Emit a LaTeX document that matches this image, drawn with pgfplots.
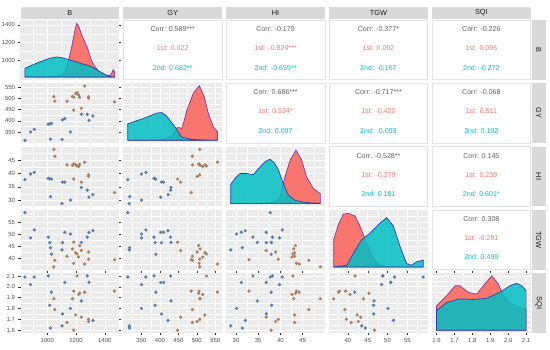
\documentclass[border=0pt]{standalone}
\usepackage{fontspec}
\setmainfont{Liberation Sans}
\usepackage{pgfplots}
\usepackage{pgfplotstable}
\pgfplotsset{compat=1.18}

\definecolor{panelbg}{HTML}{EBEBEB}
\definecolor{stripbg}{HTML}{D9D9D9}
\definecolor{striptext}{HTML}{1A1A1A}
\definecolor{labcol}{HTML}{4D4D4D}
\definecolor{tickcol}{HTML}{333333}
\definecolor{bordercol}{HTML}{E3E3E3}
\definecolor{corrgray}{HTML}{606060}
\definecolor{fred}{HTML}{F8766D}
\definecolor{fcyan}{HTML}{00BFC4}
\definecolor{lred}{RGB}{120,60,170}
\definecolor{lcyan}{RGB}{50,60,170}
\definecolor{ptred}{RGB}{175,128,95}
\definecolor{ptcyan}{RGB}{88,126,180}

% group "1st"
\pgfplotstableread{
B GY HI TGW SQI
1046 508 49.0 36.4 1.89
1053 488 46.4 39.2 1.79
1138 488 43.2 40.8 1.67
1175 509 43.0 43.9 1.89
1184 506 43.6 37.9 1.96
1198 522 43.2 42.3 1.74
1207 526 42.8 41.8 2.10
1218 516 42.6 40.5 1.93
1225 505 43.4 45.3 1.94
1260 556 44.2 37.6 1.95
1184 448 37.9 46.7 1.60
1237 456 36.8 43.2 1.72
1287 508 39.5 39.6 1.70
1287 501 38.9 42.6 1.68
1467 485 32.9 39.4 1.96
}\first
% group "2nd"
\pgfplotstableread{
B GY HI TGW SQI
846 313 37.7 59.0 2.09
885 350 39.8 48.5 2.02
910 362 40.4 51.8 2.09
1007 384 38.2 48.8 2.10
1018 387 38.0 46.5 1.83
1030 389 37.9 41.7 1.95
1106 404 36.8 46.5 1.75
1122 410 36.8 50.8 2.04
1237 430 34.8 46.6 1.87
1278 429 33.8 48.8 2.10
1317 422 32.1 51.5 1.69
1290 402 31.2 50.8 2.04
1161 350 30.1 50.1 1.80
1023 318 31.4 44.4 1.62
1103 317 28.8 43.5 1.64
}\second

\pgfplotsset{
 base/.style={scale only axis, width=98.5bp, height=59.7bp, anchor=north west,
   axis background/.style={fill=panelbg}, axis line style={draw=none},
   grid=both, major grid style={draw=white,line width=0.55bp},
   minor grid style={draw=white,line width=0.28bp},
   tick align=outside, major tick length=2bp, minor tick length=0pt,
   xtick style={draw=none}, ytick style={draw=none},
   xticklabels={}, yticklabels={},
   tick label style={font=\fontsize{6}{7}\selectfont, text=labcol},
 },
 pr/.style={only marks, mark=*, mark size=1.45bp, color=ptred, mark options={fill=ptred, draw=none}},
 pc/.style={only marks, mark=*, mark size=1.45bp, color=ptcyan, mark options={fill=ptcyan, draw=none}},
 dr/.style={fill=fred, draw=lred, line width=0.7bp},
 dc/.style={fill=fcyan, fill opacity=0.85, draw=lcyan, draw opacity=1, line width=0.7bp},
 xB/.style={xmin=815,xmax=1498,xtick={1000,1200,1400},minor xtick={900,1100,1300}},
 xGY/.style={xmin=301,xmax=568,xtick={350,400,450,500,550},minor xtick={325,375,425,475,525}},
 xHI/.style={xmin=27.8,xmax=50,xtick={30,35,40,45},minor xtick={32.5,37.5,42.5,47.5}},
 xTGW/.style={xmin=35.27,xmax=60.13,xtick={40,45,50,55},minor xtick={37.5,42.5,47.5,52.5,57.5}},
 xSQI/.style={xmin=1.575,xmax=2.125,xtick={1.6,1.7,1.8,1.9,2.0,2.1},minor xtick={1.65,1.75,1.85,1.95,2.05}},
 yBd/.style={ymin=777,ymax=1456,ytick={1000,1200,1400},minor ytick={900,1100,1300}},
 yGY/.style={ymin=301,ymax=568,ytick={350,400,450,500,550},minor ytick={325,375,425,475,525}},
 yHI/.style={ymin=27.8,ymax=50,ytick={30,35,40,45},minor ytick={32.5,37.5,42.5,47.5}},
 yTGW/.style={ymin=35.27,ymax=60.13,ytick={40,45,50,55},minor ytick={37.5,42.5,47.5,52.5,57.5}},
 ySQI/.style={ymin=1.575,ymax=2.125,ytick={1.6,1.7,1.8,1.9,2.0,2.1},minor ytick={1.65,1.75,1.85,1.95,2.05}},
 lx/.style={xtick style={draw=tickcol,line width=0.45bp}, xticklabels={#1}},
 ly/.style={ytick style={draw=tickcol,line width=0.45bp}, yticklabels={#1}},
}

\newcommand\corr[5]{%
 \begin{scope}[shift={(#1bp,-#2bp)}]
  \draw[bordercol, line width=0.5bp, fill=white] (0,0) rectangle (98.5bp,-59.7bp);
  \node[font=\fontsize{7.1}{8}\selectfont, text=corrgray] at (49.25bp,-9.25bp) {#3};
  \node[font=\fontsize{7.1}{8}\selectfont, text=fred] at (49.25bp,-28.2bp) {#4};
  \node[font=\fontsize{7.1}{8}\selectfont, text=fcyan] at (49.25bp,-47.5bp) {#5};
 \end{scope}}
\newcommand\topstrip[2]{%
  \fill[stripbg] (#1bp,-6.5bp) rectangle ++(98.5bp,-12bp);
  \node[font=\fontsize{7.4}{8}\selectfont, text=striptext] at (#1bp+49.25bp,-12.5bp) {#2};}
\newcommand\sidestrip[2]{%
  \fill[stripbg] (532bp,-#1bp) rectangle (545.5bp,-#1bp-59.7bp);
  \node[font=\fontsize{7.4}{8}\selectfont, text=striptext, rotate=-90] at (538.75bp,-#1bp-29.85bp) {#2};}

\begin{document}
\begin{tikzpicture}
\path[use as bounding box] (0,0) rectangle (550bp,-350bp);

% strips
\topstrip{20.5}{B}\topstrip{123.4}{GY}\topstrip{226.3}{HI}\topstrip{329.2}{TGW}\topstrip{432.1}{SQI}
\sidestrip{20}{B}\sidestrip{83.3}{GY}\sidestrip{146.6}{HI}\sidestrip{209.9}{TGW}\sidestrip{273.2}{SQI}

% upper panels
\corr{123.4}{20}{Corr: 0.589***}{1st: 0.022}{2nd: 0.682**}
\corr{226.3}{20}{Corr: -0.179}{1st: -0.824***}{2nd: -0.659**}
\corr{329.2}{20}{Corr: -0.377*}{1st: 0.092}{2nd: -0.167}
\corr{432.1}{20}{Corr: -0.226}{1st: 0.095}{2nd: -0.272}
\corr{226.3}{83.3}{Corr: 0.686***}{1st: 0.534*}{2nd: 0.097}
\corr{329.2}{83.3}{Corr: -0.717***}{1st: -0.420}{2nd: -0.093}
\corr{432.1}{83.3}{Corr: -0.068}{1st: 0.511}{2nd: 0.192}
\corr{329.2}{146.6}{Corr: -0.528**}{1st: -0.379}{2nd: 0.181}
\corr{432.1}{146.6}{Corr: 0.145}{1st: 0.239}{2nd: 0.601*}
\corr{432.1}{209.9}{Corr: 0.308}{1st: -0.291}{2nd: 0.499}

% ---- row 1: B density
\begin{axis}[base, at={(20.5bp,-20bp)}, xB, yBd, ly={1000,1200,1400}]
\addplot[dr] table[x=x, y expr=\thisrow{f}*679+777] {
x f
846 0.045
1000 0.047
1080 0.06
1120 0.12
1146 0.30
1170 0.55
1190 0.80
1204 0.945
1218 0.90
1238 0.76
1258 0.65
1278 0.54
1295 0.42
1308 0.32
1330 0.22
1366 0.12
1400 0.08
1435 0.07
1450 0.12
1458 0.17
1469 0.12
1469 0.045
} -- cycle;
\addplot[dc] table[x=x, y expr=\thisrow{f}*679+777] {
x f
846 0.045
846 0.19
900 0.25
950 0.30
1000 0.345
1040 0.37
1066 0.38
1100 0.37
1158 0.33
1200 0.30
1250 0.26
1297 0.23
1340 0.17
1389 0.105
1435 0.05
1469 0.045
} -- cycle;
\end{axis}

% ---- row 2
\begin{axis}[base, at={(20.5bp,-83.3bp)}, xB, yGY, ly={350,400,450,500,550}]
\addplot[pr] table[x=B,y=GY] {\first};
\addplot[pc] table[x=B,y=GY] {\second};
\end{axis}
\begin{axis}[base, at={(123.4bp,-83.3bp)}, xGY, yGY]
\addplot[dr] table[x=x, y expr=\thisrow{f}*267+301] {
x f
313 0.045
400 0.05
425 0.09
436 0.15
445 0.25
452 0.26
459 0.24
466 0.38
473 0.55
491 0.84
507 0.96
520 0.78
531 0.50
545 0.27
556 0.19
556 0.045
} -- cycle;
\addplot[dc] table[x=x, y expr=\thisrow{f}*267+301] {
x f
313 0.045
313 0.32
335 0.37
355 0.41
375 0.46
391 0.50
405 0.51
417 0.46
427 0.38
441 0.27
459 0.10
486 0.06
520 0.05
556 0.045
} -- cycle;
\end{axis}

% ---- row 3
\begin{axis}[base, at={(20.5bp,-146.6bp)}, xB, yHI, ly={30,35,40,45}]
\addplot[pr] table[x=B,y=HI] {\first};
\addplot[pc] table[x=B,y=HI] {\second};
\end{axis}
\begin{axis}[base, at={(123.4bp,-146.6bp)}, xGY, yHI]
\addplot[pr] table[x=GY,y=HI] {\first};
\addplot[pc] table[x=GY,y=HI] {\second};
\end{axis}
\begin{axis}[base, at={(226.3bp,-146.6bp)}, xHI, yHI]
\addplot[dr] table[x=x, y expr=\thisrow{f}*22.2+27.8] {
x f
28.8 0.045
37.6 0.05
39.2 0.10
39.9 0.16
41.0 0.49
42.2 0.775
43.5 0.94
44.8 0.775
45.9 0.49
47.4 0.30
49.0 0.21
49.0 0.045
} -- cycle;
\addplot[dc] table[x=x, y expr=\thisrow{f}*22.2+27.8] {
x f
28.8 0.045
28.8 0.365
29.8 0.47
30.9 0.55
32.4 0.55
33.9 0.53
35.4 0.66
36.6 0.75
37.65 0.79
38.6 0.73
39.5 0.62
40.65 0.38
41.8 0.185
43.3 0.10
45.9 0.06
49.0 0.05
49.0 0.045
} -- cycle;
\end{axis}

% ---- row 4
\begin{axis}[base, at={(20.5bp,-209.9bp)}, xB, yTGW, ly={40,45,50,55}]
\addplot[pr] table[x=B,y=TGW] {\first};
\addplot[pc] table[x=B,y=TGW] {\second};
\end{axis}
\begin{axis}[base, at={(123.4bp,-209.9bp)}, xGY, yTGW]
\addplot[pr] table[x=GY,y=TGW] {\first};
\addplot[pc] table[x=GY,y=TGW] {\second};
\end{axis}
\begin{axis}[base, at={(226.3bp,-209.9bp)}, xHI, yTGW]
\addplot[pr] table[x=HI,y=TGW] {\first};
\addplot[pc] table[x=HI,y=TGW] {\second};
\end{axis}
\begin{axis}[base, at={(329.2bp,-209.9bp)}, xTGW, yTGW]
\addplot[dr] table[x=x, y expr=\thisrow{f}*24.86+35.27] {
x f
36.4 0.045
36.4 0.50
37.57 0.755
38.83 0.93
40.09 0.94
41.78 0.90
43.04 0.73
44.73 0.44
46.4 0.19
48.09 0.07
51.4 0.045
59.0 0.045
} -- cycle;
\addplot[dc] table[x=x, y expr=\thisrow{f}*24.86+35.27] {
x f
36.4 0.045
39.7 0.07
41.35 0.27
43.47 0.50
45.57 0.61
48.09 0.78
49.78 0.87
51.45 0.73
53.14 0.39
54.83 0.10
56.09 0.074
57.35 0.13
59.0 0.16
59.0 0.045
} -- cycle;
\end{axis}

% ---- row 5
\begin{axis}[base, at={(20.5bp,-273.2bp)}, xB, ySQI, ly={1.6,1.7,1.8,1.9,2.0,2.1}, lx={1000,1200,1400}]
\addplot[pr] table[x=B,y=SQI] {\first};
\addplot[pc] table[x=B,y=SQI] {\second};
\end{axis}
\begin{axis}[base, at={(123.4bp,-273.2bp)}, xGY, ySQI, lx={350,400,450,500,550}]
\addplot[pr] table[x=GY,y=SQI] {\first};
\addplot[pc] table[x=GY,y=SQI] {\second};
\end{axis}
\begin{axis}[base, at={(226.3bp,-273.2bp)}, xHI, ySQI, lx={30,35,40,45}]
\addplot[pr] table[x=HI,y=SQI] {\first};
\addplot[pc] table[x=HI,y=SQI] {\second};
\end{axis}
\begin{axis}[base, at={(329.2bp,-273.2bp)}, xTGW, ySQI, lx={40,45,50,55}]
\addplot[pr] table[x=TGW,y=SQI] {\first};
\addplot[pc] table[x=TGW,y=SQI] {\second};
\end{axis}
\begin{axis}[base, at={(432.1bp,-273.2bp)}, xSQI, ySQI, lx={1.6,1.7,1.8,1.9,2.0,2.1}]
\addplot[dr] table[x=x, y expr=\thisrow{f}*0.55+1.575] {
x f
1.60 0.045
1.60 0.455
1.656 0.62
1.703 0.79
1.730 0.79
1.777 0.68
1.824 0.65
1.870 0.82
1.908 0.955
1.945 0.82
1.973 0.62
2.010 0.50
2.066 0.42
2.10 0.40
2.10 0.045
} -- cycle;
\addplot[dc] table[x=x, y expr=\thisrow{f}*0.55+1.575] {
x f
1.60 0.045
1.60 0.37
1.656 0.51
1.730 0.57
1.805 0.56
1.880 0.58
1.954 0.68
2.010 0.79
2.047 0.83
2.075 0.79
2.10 0.71
2.10 0.045
} -- cycle;
\end{axis}
\end{tikzpicture}
\end{document}
